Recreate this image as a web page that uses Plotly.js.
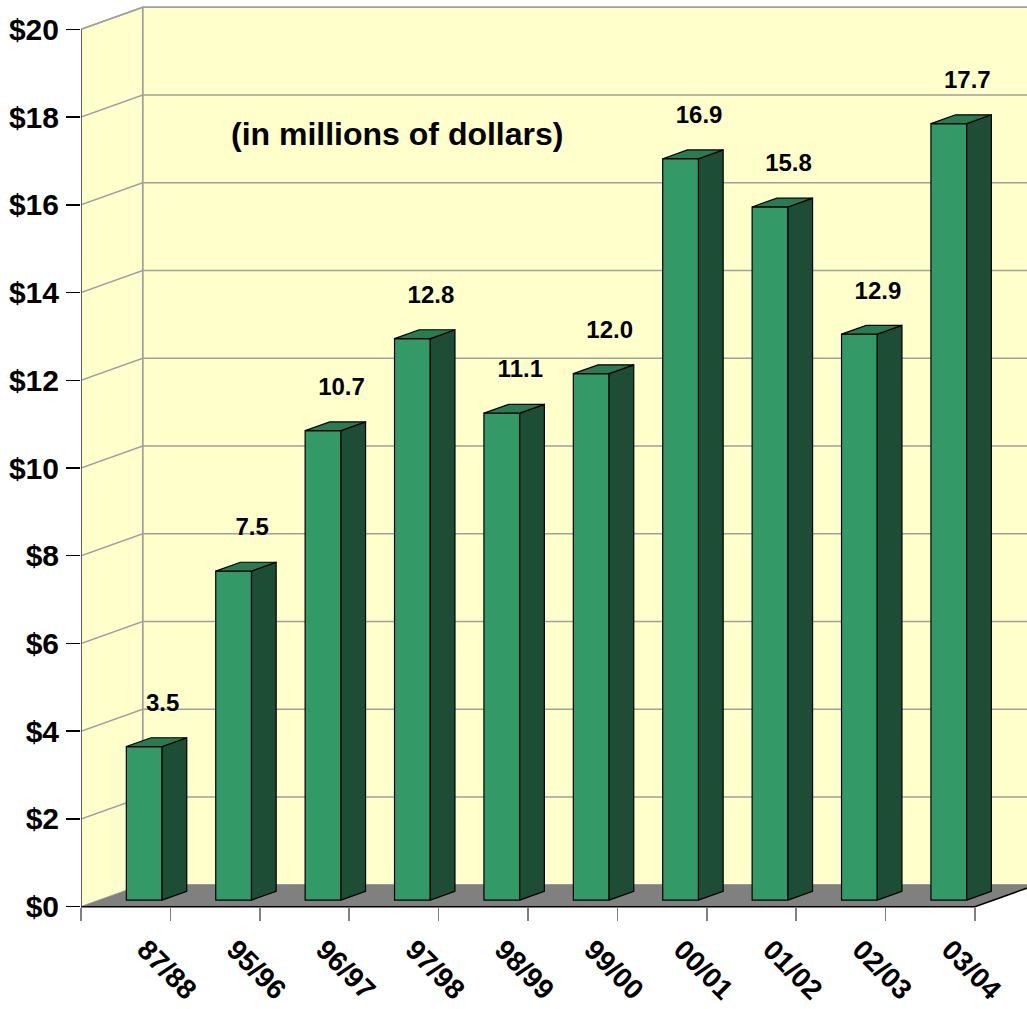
<!DOCTYPE html>
<html>
<head>
<meta charset="utf-8">
<script src="https://cdn.plot.ly/plotly-3.0.1.min.js"></script>
<style>
  html, body { margin: 0; padding: 0; background: #ffffff; }
  #chart { width: 1027px; height: 1009px; }
</style>
</head>
<body>
<div id="chart"></div>
<script>
// ---- data ----
const categories = ['87/88', '95/96', '96/97', '97/98', '98/99', '99/00', '00/01', '01/02', '02/03', '03/04'];
const values = [3.5, 7.5, 10.7, 12.8, 11.1, 12.0, 16.9, 15.8, 12.9, 17.7];
const valueLabels = ['3.5', '7.5', '10.7', '12.8', '11.1', '12.0', '16.9', '15.8', '12.9', '17.7'];
const yTickValues = [0, 2, 4, 6, 8, 10, 12, 14, 16, 18, 20];
const yTickLabels = ['$0', '$2', '$4', '$6', '$8', '$10', '$12', '$14', '$16', '$18', '$20'];
const unitNote = '(in millions of dollars)';

// ---- 3-D projection style (in axis units) ----
const DX = 0.69;      // depth shift along x (category units)
const DY = 0.5015;    // depth shift along y (value units)
const BAR_W = 0.4;    // bar width (category units)
const D0 = 0.3, D1 = 0.7; // bar front / back depth fractions
const N = categories.length;
const YMAX = yTickValues[yTickValues.length - 1];

const FONT = 'Liberation Sans, Arial, Helvetica, sans-serif';
const WALL = '#FFFFCC', FLOOR = '#808080', GRID = '#A0A0A0';
const FRONT = '#339966', SIDE = '#1E4D35', TOP = '#2A7A52';

const XMAX = (1027 - 81) / 89.4;
const YLO = (906.7 - 1009) / 43.87, YHI = 906.7 / 43.87;

function pathOf(pts) {
  return 'M' + pts.map(p => p[0] + ',' + p[1]).join('L') + 'Z';
}
function joinPolys(list) {
  const xs = [], ys = [];
  list.forEach((p, i) => {
    if (i > 0) { xs.push(null); ys.push(null); }
    p.forEach(q => { xs.push(q[0]); ys.push(q[1]); });
    xs.push(p[0][0]); ys.push(p[0][1]);
  });
  return {x: xs, y: ys};
}

// ---- walls, floor and gridlines as background shapes ----
const shapes = [];
shapes.push({type: 'path', xref: 'x', yref: 'y', layer: 'below',
  path: pathOf([[DX, DY], [N + DX + 1, DY], [N + DX + 1, YMAX + DY], [DX, YMAX + DY]]),
  fillcolor: WALL, line: {color: GRID, width: 1.5}});
shapes.push({type: 'path', xref: 'x', yref: 'y', layer: 'below',
  path: pathOf([[0, 0], [DX, DY], [DX, YMAX + DY], [0, YMAX]]),
  fillcolor: WALL, line: {color: GRID, width: 1.5}});
shapes.push({type: 'path', xref: 'x', yref: 'y', layer: 'below',
  path: pathOf([[0, 0], [N, 0], [N + DX, DY], [DX, DY]]),
  fillcolor: FLOOR, line: {color: FLOOR, width: 0}});
yTickValues.forEach(v => {
  if (v === 0) return;
  shapes.push({type: 'path', xref: 'x', yref: 'y', layer: 'below',
    path: 'M0,' + v + 'L' + DX + ',' + (v + DY) + 'L' + (N + DX + 1) + ',' + (v + DY),
    line: {color: GRID, width: 1.5}});
});
shapes.push({type: 'path', xref: 'x', yref: 'y', layer: 'below',
  path: 'M0,0L' + N + ',0L' + (N + DX) + ',' + DY, line: {color: '#000000', width: 1.5}});
shapes.push({type: 'line', xref: 'x', yref: 'y', layer: 'below', x0: 0, x1: 0, y0: 0, y1: YMAX,
  line: {color: '#404040', width: 1.5}});

const traces = [];

// bar front faces (bar trace)
const barX = categories.map((c, i) => i + 0.5 + D0 * DX);
traces.push({type: 'bar', x: barX, y: values, base: values.map(() => D0 * DY), width: BAR_W,
  marker: {color: FRONT, line: {color: '#000000', width: 1.2}}, hoverinfo: 'skip', showlegend: false});

// side faces and top faces
const sides = [], tops = [];
const dd = (D1 - D0);
values.forEach((v, i) => {
  const x0 = i + 0.5 - BAR_W / 2 + D0 * DX;
  const x1 = x0 + BAR_W;
  const y0 = D0 * DY, y1 = v + D0 * DY;
  sides.push([[x1, y0], [x1 + dd * DX, y0 + dd * DY], [x1 + dd * DX, y1 + dd * DY], [x1, y1]]);
  tops.push([[x0, y1], [x1, y1], [x1 + dd * DX, y1 + dd * DY], [x0 + dd * DX, y1 + dd * DY]]);
});
const sp = joinPolys(sides), tp = joinPolys(tops);
traces.push({type: 'scatter', mode: 'lines', x: sp.x, y: sp.y, fill: 'toself', fillcolor: SIDE,
  line: {color: '#000000', width: 1.2}, hoverinfo: 'skip', showlegend: false});
traces.push({type: 'scatter', mode: 'lines', x: tp.x, y: tp.y, fill: 'toself', fillcolor: TOP,
  line: {color: '#000000', width: 1.2}, hoverinfo: 'skip', showlegend: false});

// value labels
traces.push({type: 'scatter', mode: 'text',
  x: values.map((v, i) => i + 0.5 + 0.6 * DX),
  y: values.map(v => v + D0 * DY + 0.95),
  text: valueLabels, textposition: 'middle center',
  textfont: {family: FONT, size: 24, color: '#000000', weight: 'bold'},
  hoverinfo: 'skip', showlegend: false, cliponaxis: false});

// category label carrier (invisible) on xaxis2
traces.push({type: 'scatter', mode: 'markers', x: [0, N], y: [0, 0], xaxis: 'x2', yaxis: 'y',
  marker: {opacity: 0}, hoverinfo: 'skip', showlegend: false});

const axisPos = (1009 - 906.7) / 1009;

const layout = {
  width: 1027, height: 1009,
  margin: {l: 81, r: 0, t: 0, b: 0, pad: 0},
  paper_bgcolor: '#ffffff', plot_bgcolor: 'rgba(0,0,0,0)',
  showlegend: false,
  bargap: 0,
  shapes: shapes,
  xaxis: {range: [0, XMAX], anchor: 'free', position: axisPos, tickmode: 'array',
    tickvals: categories.map((c, i) => i).concat([N]), ticks: 'outside', ticklen: 13, tickwidth: 1.5,
    tickcolor: '#808080', showticklabels: false, showgrid: false, zeroline: false, showline: false,
    fixedrange: true},
  xaxis2: {range: [0, XMAX], overlaying: 'x', anchor: 'free', position: axisPos, side: 'bottom',
    tickmode: 'array', tickvals: categories.map((c, i) => i + 0.5 + 0.22), ticktext: categories,
    tickangle: 45, ticks: '', ticklen: 0, showgrid: false, zeroline: false, showline: false,
    ticklabelstandoff: 20,
    tickfont: {family: FONT, size: 28, color: '#000000', weight: 'bold'}, fixedrange: true},
  yaxis: {range: [YLO, YHI], tickmode: 'array', tickvals: yTickValues, ticktext: yTickLabels,
    ticks: 'outside', ticklen: 14, tickwidth: 1.5, tickcolor: '#000000', showgrid: false,
    zeroline: false, showline: false, ticklabelstandoff: 1,
    tickfont: {family: FONT, size: 30, color: '#000000', weight: 'bold'}, fixedrange: true},
  annotations: [{text: unitNote, x: (397 - 81) / 89.4, y: (906.7 - 134) / 43.87, xref: 'x', yref: 'y',
    showarrow: false, xanchor: 'center', yanchor: 'middle',
    font: {family: FONT, size: 32, color: '#000000', weight: 'bold'}}]
};

Plotly.newPlot('chart', traces, layout, {displayModeBar: false, staticPlot: true});
</script>
</body>
</html>
